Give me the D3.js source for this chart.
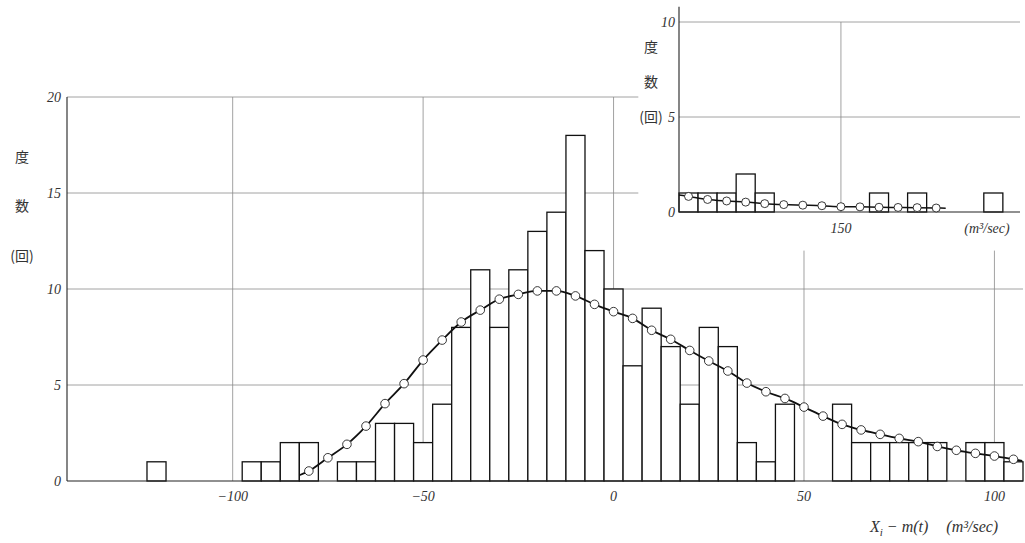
<!DOCTYPE html>
<html lang="ja">
<head>
  <meta charset="UTF-8">
  <title>度数分布</title>
  <script src="https://cdnjs.cloudflare.com/ajax/libs/d3/7.8.5/d3.min.js"></script>
  <style>
    body {
      margin: 0;
      background: white;
    }
    svg {
      display: block;
      background: white;
    }
    .grid {
      stroke: #8a8a8a;
      stroke-width: 0.8;
    }
    .axis-line {
      stroke: #222;
      stroke-width: 1.1;
    }
    .bar {
      fill: white;
      stroke: #111;
      stroke-width: 1.3;
    }
    .fit {
      fill: none;
      stroke: #111;
      stroke-width: 1.8;
    }
    .dot {
      fill: white;
      stroke: #222;
      stroke-width: 0.9;
    }
    .tick {
      font-family: "Liberation Serif", serif;
      font-style: italic;
      font-size: 14px;
      fill: #333;
    }
    .cjk {
      font-family: "Noto Sans CJK JP", sans-serif;
      font-size: 14px;
      fill: #333;
    }
  </style>
</head>
<body>
  <script>
    // main histogram: bin centres (width 5) and counts
    var mainBins = [-120, -115, -110, -105, -100, -95, -90, -85, -80, -75, -70, -65, -60, -55, -50,
      -45, -40, -35, -30, -25, -20, -15, -10, -5, 0, 5, 10, 15, 20, 25, 30, 35, 40, 45, 50,
      55, 60, 65, 70, 75, 80, 85, 90, 95, 100, 105];
    var mainCounts = [1, 0, 0, 0, 0, 1, 1, 2, 2, 0, 1, 1, 3, 3, 2,
      4, 8, 11, 8, 11, 13, 14, 18, 12, 10, 6, 9, 7, 4, 8, 7, 2, 1, 4, 0,
      0, 4, 2, 2, 2, 2, 2, 0, 2, 2, 1];

    // fitted curve (circles) for the main chart
    var fitX = [-80, -75, -70, -65, -60, -55, -50, -45, -40, -35, -30, -25, -20, -15, -10, -5,
      0, 5, 10, 15, 20, 25, 30, 35, 40, 45, 50, 55, 60, 65, 70, 75, 80, 85, 90, 95, 100, 105];
    var fitY = [0.52, 1.21, 1.91, 2.86, 4.03, 5.07, 6.3, 7.34, 8.28, 8.9, 9.47, 9.72, 9.9, 9.9, 9.64, 9.2,
      8.82, 8.47, 7.85, 7.38, 6.8, 6.25, 5.73, 5.1, 4.65, 4.3, 3.85, 3.38, 2.95, 2.66, 2.43, 2.22, 2.05, 1.8, 1.6, 1.44, 1.3, 1.13];
    var fitEndsX = [-82.5, 107.3];
    var fitEndsY = [0.3, 1.05];

    // inset: tail of the distribution
    var insetBins = [110, 115, 120, 125, 130, 135, 140, 145, 150, 155, 160, 165, 170, 175, 180, 185, 190];
    var insetCounts = [1, 1, 1, 2, 1, 0, 0, 0, 0, 0, 1, 0, 1, 0, 0, 0, 1];
    var insetFitX = [110, 115, 120, 125, 130, 135, 140, 145, 150, 155, 160, 165, 170, 175];
    var insetFitY = [0.82, 0.66, 0.58, 0.52, 0.44, 0.39, 0.36, 0.33, 0.28, 0.27, 0.25, 0.24, 0.23, 0.21];
    var insetEndsX = [107.5, 177.5];
    var insetEndsY = [0.9, 0.2];

    var xTicks = [-100, -50, 0, 50, 100];
    var yTicks = [0, 5, 10, 15, 20];
    var insetXTicks = [150];
    var insetYTicks = [0, 5, 10];
    var binWidth = 5;

    var w = 1025;
    var h = 543;

    var svg = d3.select("body").append("svg")
      .attr("width", w)
      .attr("height", h);

    var x = d3.scaleLinear().domain([-143.5, 107.5]).range([67, 1023]);
    var y = d3.scaleLinear().domain([0, 20]).range([481, 97]);

    var xi = d3.scaleLinear().domain([107.5, 197]).range([679, 1020]);
    var yi = d3.scaleLinear().domain([0, 10]).range([212, 22]);

    // the inset hides the upper right part of the main grid
    var cutX = 6.5;
    var cutY = 12;

    function fmt(v) {
      return v < 0 ? "\u2212" + Math.abs(v) : String(v);
    }

    // ---- main chart grid ----
    svg.selectAll(".hgrid")
      .data(yTicks.filter(function(d) { return d > 0; }))
      .enter()
      .append("line")
      .attr("class", "grid")
      .attr("x1", x.range()[0])
      .attr("x2", function(d) { return d > cutY ? x(cutX) : x.range()[1]; })
      .attr("y1", function(d) { return y(d); })
      .attr("y2", function(d) { return y(d); });

    svg.selectAll(".vgrid")
      .data(xTicks)
      .enter()
      .append("line")
      .attr("class", "grid")
      .attr("x1", function(d) { return x(d); })
      .attr("x2", function(d) { return x(d); })
      .attr("y1", function(d) { return d > cutX ? y(cutY) : y(20); })
      .attr("y2", y(0));

    // bars
    var mainData = mainBins.map(function(b, i) { return { b: b, n: mainCounts[i] }; })
      .filter(function(d) { return d.n > 0; });

    svg.selectAll(".bar-main")
      .data(mainData)
      .enter()
      .append("rect")
      .attr("class", "bar")
      .attr("x", function(d) { return x(d.b - binWidth / 2); })
      .attr("width", function(d) { return x(d.b + binWidth / 2) - x(d.b - binWidth / 2); })
      .attr("y", function(d) { return y(d.n); })
      .attr("height", function(d) { return y(0) - y(d.n); });

    // axes
    svg.append("line").attr("class", "axis-line")
      .attr("x1", x.range()[0]).attr("x2", x.range()[0])
      .attr("y1", y(20)).attr("y2", y(0));
    svg.append("line").attr("class", "axis-line")
      .attr("x1", x.range()[0]).attr("x2", x.range()[1])
      .attr("y1", y(0)).attr("y2", y(0));

    // fitted curve
    var line = d3.line().curve(d3.curveMonotoneX);

    var mainPts = [[fitEndsX[0], fitEndsY[0]]]
      .concat(fitX.map(function(v, i) { return [v, fitY[i]]; }))
      .concat([[fitEndsX[1], fitEndsY[1]]]);

    svg.append("path")
      .attr("class", "fit")
      .attr("d", line(mainPts.map(function(p) { return [x(p[0]), y(p[1])]; })));

    svg.selectAll(".dot-main")
      .data(fitX)
      .enter()
      .append("circle")
      .attr("class", "dot")
      .attr("cx", function(d) { return x(d); })
      .attr("cy", function(d, i) { return y(fitY[i]); })
      .attr("r", 4.3);

    // tick labels
    svg.selectAll(".ylab")
      .data(yTicks)
      .enter()
      .append("text")
      .attr("class", "tick")
      .attr("text-anchor", "end")
      .attr("x", 61)
      .attr("y", function(d) { return y(d); })
      .attr("dy", "0.35em")
      .text(fmt);

    svg.selectAll(".xlab")
      .data(xTicks)
      .enter()
      .append("text")
      .attr("class", "tick")
      .attr("text-anchor", "middle")
      .attr("x", function(d) { return x(d); })
      .attr("y", 501)
      .text(fmt);

    // y title
    [["度", 157], ["数", 206], ["(回)", 256]].forEach(function(t) {
      svg.append("text")
        .attr("class", "cjk")
        .attr("text-anchor", "middle")
        .attr("x", 22)
        .attr("y", t[1])
        .attr("dy", "0.35em")
        .text(t[0]);
    });

    // x title
    var xt = svg.append("text")
      .attr("class", "tick")
      .attr("x", 870)
      .attr("y", 532)
      .style("font-size", "16px");
    xt.append("tspan").text("X");
    xt.append("tspan").attr("dy", 4).style("font-size", "11px").text("i");
    xt.append("tspan").attr("dy", -4).text(" \u2212 m(t)");
    xt.append("tspan").attr("dx", 18).text("(m\u00b3/sec)");

    // ---- inset ----
    svg.selectAll(".ihgrid")
      .data(insetYTicks.filter(function(d) { return d > 0; }))
      .enter()
      .append("line")
      .attr("class", "grid")
      .attr("x1", xi.range()[0])
      .attr("x2", xi.range()[1])
      .attr("y1", function(d) { return yi(d); })
      .attr("y2", function(d) { return yi(d); });

    svg.selectAll(".ivgrid")
      .data(insetXTicks)
      .enter()
      .append("line")
      .attr("class", "grid")
      .attr("x1", function(d) { return xi(d); })
      .attr("x2", function(d) { return xi(d); })
      .attr("y1", yi(10))
      .attr("y2", yi(0));

    var insetData = insetBins.map(function(b, i) { return { b: b, n: insetCounts[i] }; })
      .filter(function(d) { return d.n > 0; });

    svg.selectAll(".bar-inset")
      .data(insetData)
      .enter()
      .append("rect")
      .attr("class", "bar")
      .attr("x", function(d) { return xi(d.b - binWidth / 2); })
      .attr("width", function(d) { return xi(d.b + binWidth / 2) - xi(d.b - binWidth / 2); })
      .attr("y", function(d) { return yi(d.n); })
      .attr("height", function(d) { return yi(0) - yi(d.n); });

    svg.append("line").attr("class", "axis-line")
      .attr("x1", xi.range()[0]).attr("x2", xi.range()[0])
      .attr("y1", yi(10.8)).attr("y2", yi(0));
    svg.append("line").attr("class", "axis-line")
      .attr("x1", xi.range()[0]).attr("x2", xi.range()[1])
      .attr("y1", yi(0)).attr("y2", yi(0));

    var insetPts = [[insetEndsX[0], insetEndsY[0]]]
      .concat(insetFitX.map(function(v, i) { return [v, insetFitY[i]]; }))
      .concat([[insetEndsX[1], insetEndsY[1]]]);

    svg.append("path")
      .attr("class", "fit")
      .style("stroke-width", 1.5)
      .attr("d", line(insetPts.map(function(p) { return [xi(p[0]), yi(p[1])]; })));

    svg.selectAll(".dot-inset")
      .data(insetFitX)
      .enter()
      .append("circle")
      .attr("class", "dot")
      .attr("cx", function(d) { return xi(d); })
      .attr("cy", function(d, i) { return yi(insetFitY[i]); })
      .attr("r", 4);

    svg.selectAll(".iylab")
      .data(insetYTicks)
      .enter()
      .append("text")
      .attr("class", "tick")
      .attr("text-anchor", "end")
      .attr("x", 675)
      .attr("y", function(d) { return yi(d); })
      .attr("dy", "0.35em")
      .text(fmt);

    svg.selectAll(".ixlab")
      .data(insetXTicks)
      .enter()
      .append("text")
      .attr("class", "tick")
      .attr("text-anchor", "middle")
      .attr("x", function(d) { return xi(d); })
      .attr("y", 233)
      .text(fmt);

    svg.append("text")
      .attr("class", "tick")
      .attr("text-anchor", "middle")
      .attr("x", 987)
      .attr("y", 233)
      .text("(m\u00b3/sec)");

    [["度", 47], ["数", 82], ["(回)", 117]].forEach(function(t) {
      svg.append("text")
        .attr("class", "cjk")
        .attr("text-anchor", "middle")
        .attr("x", 651)
        .attr("y", t[1])
        .attr("dy", "0.35em")
        .text(t[0]);
    });
  </script>
</body>
</html>
